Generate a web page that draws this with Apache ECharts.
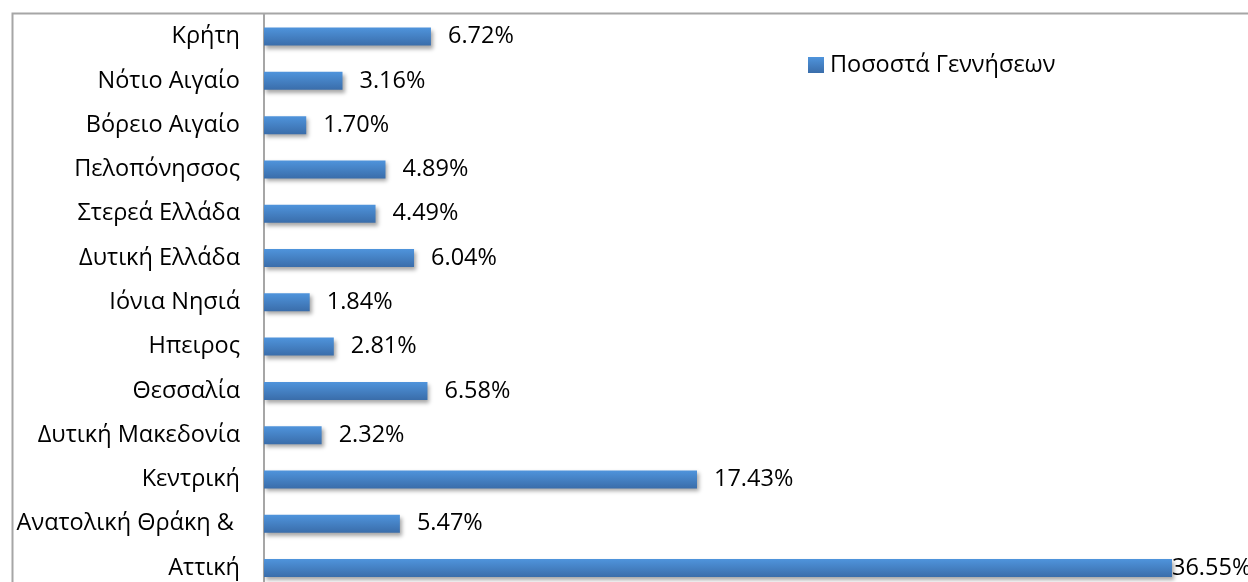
<!DOCTYPE html>
<html>
<head>
<meta charset="utf-8">
<script src="https://cdn.jsdelivr.net/npm/echarts@6/dist/echarts.min.js"></script>
<style>
html,body{margin:0;padding:0;background:#fff;}
#c{width:1248px;height:582px;}
</style>
</head>
<body>
<div id="c"></div>
<script>
// Categories listed bottom to top
const categories = ['Αττική','Ανατολική Θράκη & ','Κεντρική','Δυτική Μακεδονία','Θεσσαλία','Ηπειρος','Ιόνια Νησιά','Δυτική Ελλάδα','Στερεά Ελλάδα','Πελοπόνησσος','Βόρειο Αιγαίο','Νότιο Αιγαίο','Κρήτη'];
const values = [36.55, 5.47, 17.43, 2.32, 6.58, 2.81, 1.84, 6.04, 4.49, 4.89, 1.70, 3.16, 6.72];
const seriesName = 'Ποσοστά Γεννήσεων';

const FONT = '"Open Sans", "Noto Sans", sans-serif';
const FS = 23.5;
const chart = echarts.init(document.getElementById('c'), null, {renderer:'canvas'});
const barColor = new echarts.graphic.LinearGradient(0,0,0,1,[
  {offset:0,color:'#4f94dc'},
  {offset:1,color:'#3a6daa'}
]);
chart.setOption({
  animation:false,
  backgroundColor:'#fff',
  graphic:[{
    type:'rect', silent:true, z:-10,
    shape:{x:12.5,y:13.5,width:1400,height:800},
    style:{fill:'none',stroke:'#a6a6a6',lineWidth:2}
  }],
  legend:{
    left:808, top:53, padding:0,
    itemWidth:16, itemHeight:16, itemGap:10,
    icon:'rect',
    textStyle:{fontFamily:FONT,fontSize:FS,color:'#000',padding:[0,0,0,1]},
    data:[seriesName]
  },
  grid:{left:264, top:14.4, width:944, height:575.8, outerBoundsMode:'none', containLabel:false},
  xAxis:{type:'value',min:0,max:38,show:false,splitLine:{show:false}},
  yAxis:{
    type:'category',
    data:categories,
    axisLine:{lineStyle:{color:'#a6a6a6',width:2}},
    axisTick:{show:false},
    axisLabel:{fontFamily:FONT,fontSize:FS,color:'#000',margin:24}
  },
  series:[{
    name:seriesName,
    type:'bar',
    barWidth:18,
    itemStyle:{
      color:barColor,
      shadowColor:'rgba(0,0,0,0.35)',
      shadowBlur:4,
      shadowOffsetX:2,
      shadowOffsetY:3
    },
    label:{
      show:true,position:'right',distance:17,
      fontFamily:FONT,fontSize:FS,color:'#000',
      formatter:p=>p.value.toFixed(2)+'%'
    },
    data:values.map((v,i)=> i===0 ? {value:v,label:{distance:0}} : v)
  }]
});
</script>
</body>
</html>
